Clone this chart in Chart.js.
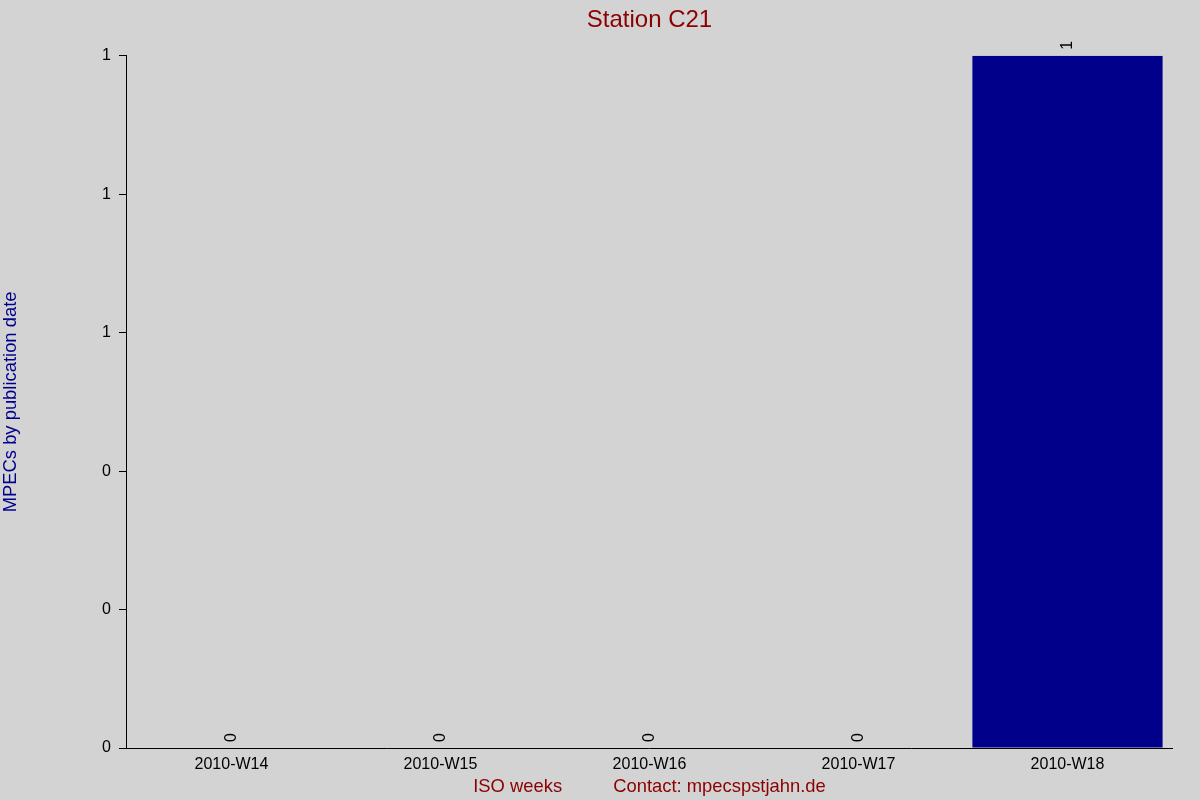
<!DOCTYPE html>
<html>
<head>
<meta charset="utf-8">
<script src="https://cdn.jsdelivr.net/npm/chart.js@4"></script>
<style>
  html, body { margin: 0; padding: 0; background: #d3d3d3; }
  #wrap { width: 1200px; height: 800px; }
</style>
</head>
<body>
<div id="wrap"><canvas id="stationChart"></canvas></div>
<script>
const weeks = ["2010-W14", "2010-W15", "2010-W16", "2010-W17", "2010-W18"];
const mpecs = [0, 0, 0, 0, 1];
const yTicks = [0, 0.2, 0.4, 0.6, 0.8, 1];

const FONT = "'Liberation Sans', Arial, sans-serif";
const ctx = document.getElementById("stationChart");

// draws the rotated value above every bar
const valueLabels = {
  id: "valueLabels",
  afterDatasetsDraw(chart) {
    const c = chart.ctx;
    const meta = chart.getDatasetMeta(0);
    c.save();
    c.fillStyle = "#000";
    c.font = "16px " + FONT;
    c.textAlign = "left";
    c.textBaseline = "middle";
    meta.data.forEach((bar, i) => {
      c.save();
      c.translate(bar.x, bar.y - 6);
      c.rotate(-Math.PI / 2);
      c.fillText(String(mpecs[i]), 0, 0);
      c.restore();
    });
    c.restore();
  }
};

new Chart(ctx, {
  type: "bar",
  data: {
    labels: weeks,
    datasets: [
      {
        data: mpecs,
        backgroundColor: "#00008b",
        borderWidth: 0,
        barPercentage: 0.91,
        categoryPercentage: 1.0
      }
    ]
  },
  options: {
    responsive: true,
    maintainAspectRatio: false,
    animation: false,
    layout: { padding: { top: 0, right: 28, bottom: 3.6, left: 0 } },
    plugins: {
      legend: { display: false },
      tooltip: { enabled: false },
      title: {
        display: true,
        fullSize: false,
        text: "Station C21",
        color: "#8b0000",
        font: { family: FONT, size: 24, weight: "normal" },
        padding: { top: 6, bottom: 21 }
      }
    },
    scales: {
      x: {
        grid: { display: false },
        border: { display: true, color: "#000", width: 1 },
        ticks: {
          color: "#000",
          font: { family: FONT, size: 16, lineHeight: 1 },
          padding: 1,
          maxRotation: 0
        },
        title: {
          display: true,
          text: "ISO weeks          Contact: mpecspstjahn.de",
          color: "#8b0000",
          font: { family: FONT, size: 18.4, lineHeight: 1 },
          padding: { top: 4, bottom: 0 }
        }
      },
      y: {
        min: 0,
        max: 1,
        afterBuildTicks(axis) {
          axis.ticks = yTicks.map(v => ({ value: v }));
        },
        grid: {
          drawOnChartArea: false,
          drawTicks: true,
          tickLength: 8,
          color: "#000"
        },
        border: { display: true, color: "#000", width: 1 },
        ticks: {
          color: "#000",
          font: { family: FONT, size: 16 },
          padding: 8,
          callback: v => Math.round(v)
        },
        title: {
          display: true,
          text: "MPECs by publication date",
          color: "#00008b",
          font: { family: FONT, size: 18.4 },
          padding: { top: 0, bottom: 72 }
        }
      }
    }
  },
  plugins: [valueLabels]
});
</script>
</body>
</html>
